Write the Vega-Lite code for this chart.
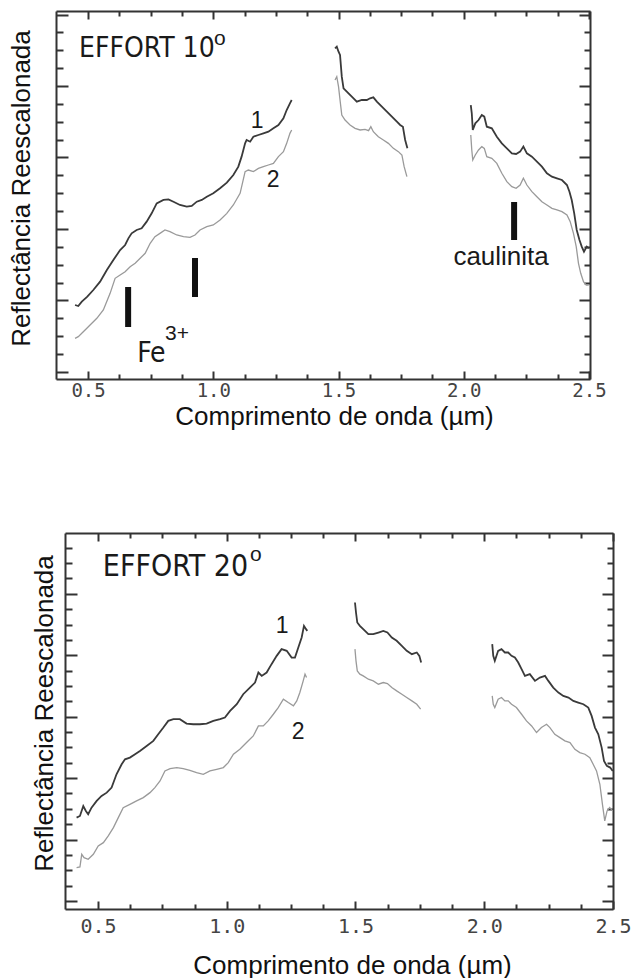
{
  "$schema": "https://vega.github.io/schema/vega-lite/v6.json",
  "padding": {"left": 8, "top": 10, "right": 0, "bottom": 0},
  "background": "white",
  "config": {"view": {"stroke": null}},
  "spacing": 103,
  "datasets": {
    "topSpec": [
      {"s":1,"g":1,"w":0.448,"r":0.937},{"s":1,"g":1,"w":0.461,"r":0.923},{"s":1,"g":1,"w":0.475,"r":0.984},{"s":1,"g":1,"w":0.497,"r":1.054},{"s":1,"g":1,"w":0.521,"r":1.147},{"s":1,"g":1,"w":0.548,"r":1.263},{"s":1,"g":1,"w":0.575,"r":1.427},{"s":1,"g":1,"w":0.601,"r":1.566},{"s":1,"g":1,"w":0.628,"r":1.706},{"s":1,"g":1,"w":0.648,"r":1.776},{"s":1,"g":1,"w":0.661,"r":1.869},{"s":1,"g":1,"w":0.674,"r":1.939},{"s":1,"g":1,"w":0.694,"r":1.986},{"s":1,"g":1,"w":0.714,"r":2.009},{"s":1,"g":1,"w":0.734,"r":2.103},{"s":1,"g":1,"w":0.754,"r":2.219},{"s":1,"g":1,"w":0.774,"r":2.359},{"s":1,"g":1,"w":0.801,"r":2.406},{"s":1,"g":1,"w":0.821,"r":2.415},{"s":1,"g":1,"w":0.841,"r":2.382},{"s":1,"g":1,"w":0.867,"r":2.336},{"s":1,"g":1,"w":0.894,"r":2.312},{"s":1,"g":1,"w":0.914,"r":2.322},{"s":1,"g":1,"w":0.934,"r":2.382},{"s":1,"g":1,"w":0.954,"r":2.406},{"s":1,"g":1,"w":0.974,"r":2.452},{"s":1,"g":1,"w":1.0,"r":2.499},{"s":1,"g":1,"w":1.027,"r":2.569},{"s":1,"g":1,"w":1.054,"r":2.648},{"s":1,"g":1,"w":1.08,"r":2.755},{"s":1,"g":1,"w":1.1,"r":2.872},{"s":1,"g":1,"w":1.113,"r":3.012},{"s":1,"g":1,"w":1.127,"r":3.198},{"s":1,"g":1,"w":1.133,"r":3.245},{"s":1,"g":1,"w":1.147,"r":3.221},{"s":1,"g":1,"w":1.16,"r":3.291},{"s":1,"g":1,"w":1.18,"r":3.315},{"s":1,"g":1,"w":1.2,"r":3.338},{"s":1,"g":1,"w":1.22,"r":3.361},{"s":1,"g":1,"w":1.24,"r":3.408},{"s":1,"g":1,"w":1.26,"r":3.455},{"s":1,"g":1,"w":1.28,"r":3.548},{"s":1,"g":1,"w":1.293,"r":3.664},{"s":1,"g":1,"w":1.306,"r":3.758},{"s":1,"g":1,"w":1.313,"r":3.804},
      {"s":2,"g":1,"w":0.448,"r":0.471},{"s":2,"g":1,"w":0.461,"r":0.494},{"s":2,"g":1,"w":0.481,"r":0.564},{"s":2,"g":1,"w":0.508,"r":0.657},{"s":2,"g":1,"w":0.535,"r":0.751},{"s":2,"g":1,"w":0.561,"r":0.867},{"s":2,"g":1,"w":0.588,"r":1.1},{"s":2,"g":1,"w":0.608,"r":1.31},{"s":2,"g":1,"w":0.628,"r":1.357},{"s":2,"g":1,"w":0.648,"r":1.403},{"s":2,"g":1,"w":0.668,"r":1.473},{"s":2,"g":1,"w":0.688,"r":1.52},{"s":2,"g":1,"w":0.708,"r":1.59},{"s":2,"g":1,"w":0.728,"r":1.66},{"s":2,"g":1,"w":0.748,"r":1.8},{"s":2,"g":1,"w":0.767,"r":1.893},{"s":2,"g":1,"w":0.787,"r":1.939},{"s":2,"g":1,"w":0.807,"r":1.986},{"s":2,"g":1,"w":0.827,"r":1.963},{"s":2,"g":1,"w":0.854,"r":1.916},{"s":2,"g":1,"w":0.881,"r":1.893},{"s":2,"g":1,"w":0.907,"r":1.883},{"s":2,"g":1,"w":0.927,"r":1.916},{"s":2,"g":1,"w":0.947,"r":1.986},{"s":2,"g":1,"w":0.974,"r":2.033},{"s":2,"g":1,"w":1.0,"r":2.056},{"s":2,"g":1,"w":1.027,"r":2.126},{"s":2,"g":1,"w":1.054,"r":2.219},{"s":2,"g":1,"w":1.08,"r":2.336},{"s":2,"g":1,"w":1.107,"r":2.499},{"s":2,"g":1,"w":1.127,"r":2.802},{"s":2,"g":1,"w":1.14,"r":2.825},{"s":2,"g":1,"w":1.16,"r":2.802},{"s":2,"g":1,"w":1.18,"r":2.848},{"s":2,"g":1,"w":1.2,"r":2.872},{"s":2,"g":1,"w":1.22,"r":2.895},{"s":2,"g":1,"w":1.24,"r":2.918},{"s":2,"g":1,"w":1.26,"r":3.012},{"s":2,"g":1,"w":1.28,"r":3.082},{"s":2,"g":1,"w":1.293,"r":3.198},{"s":2,"g":1,"w":1.306,"r":3.338},{"s":2,"g":1,"w":1.313,"r":3.385},
      {"s":1,"g":2,"w":1.486,"r":4.527},{"s":1,"g":2,"w":1.493,"r":4.55},{"s":1,"g":2,"w":1.5,"r":4.48},{"s":1,"g":2,"w":1.506,"r":4.434},{"s":1,"g":2,"w":1.513,"r":4.131},{"s":1,"g":2,"w":1.52,"r":3.967},{"s":1,"g":2,"w":1.533,"r":3.921},{"s":1,"g":2,"w":1.553,"r":3.851},{"s":1,"g":2,"w":1.573,"r":3.781},{"s":1,"g":2,"w":1.593,"r":3.804},{"s":1,"g":2,"w":1.613,"r":3.804},{"s":1,"g":2,"w":1.626,"r":3.828},{"s":1,"g":2,"w":1.639,"r":3.841},{"s":1,"g":2,"w":1.653,"r":3.781},{"s":1,"g":2,"w":1.673,"r":3.711},{"s":1,"g":2,"w":1.693,"r":3.641},{"s":1,"g":2,"w":1.713,"r":3.571},{"s":1,"g":2,"w":1.733,"r":3.501},{"s":1,"g":2,"w":1.746,"r":3.455},{"s":1,"g":2,"w":1.757,"r":3.431},{"s":1,"g":2,"w":1.766,"r":3.245},{"s":1,"g":2,"w":1.775,"r":3.128},
      {"s":2,"g":2,"w":1.486,"r":4.084},{"s":2,"g":2,"w":1.493,"r":4.131},{"s":2,"g":2,"w":1.5,"r":3.991},{"s":2,"g":2,"w":1.506,"r":3.804},{"s":2,"g":2,"w":1.513,"r":3.594},{"s":2,"g":2,"w":1.526,"r":3.524},{"s":2,"g":2,"w":1.546,"r":3.455},{"s":2,"g":2,"w":1.566,"r":3.408},{"s":2,"g":2,"w":1.586,"r":3.385},{"s":2,"g":2,"w":1.606,"r":3.394},{"s":2,"g":2,"w":1.62,"r":3.375},{"s":2,"g":2,"w":1.629,"r":3.431},{"s":2,"g":2,"w":1.639,"r":3.361},{"s":2,"g":2,"w":1.659,"r":3.291},{"s":2,"g":2,"w":1.679,"r":3.245},{"s":2,"g":2,"w":1.699,"r":3.198},{"s":2,"g":2,"w":1.719,"r":3.128},{"s":2,"g":2,"w":1.739,"r":3.082},{"s":2,"g":2,"w":1.753,"r":3.035},{"s":2,"g":2,"w":1.762,"r":2.872},{"s":2,"g":2,"w":1.773,"r":2.732},
      {"s":1,"g":3,"w":2.028,"r":3.734},{"s":1,"g":3,"w":2.032,"r":3.618},{"s":1,"g":3,"w":2.036,"r":3.385},{"s":1,"g":3,"w":2.046,"r":3.478},{"s":1,"g":3,"w":2.059,"r":3.524},{"s":1,"g":3,"w":2.072,"r":3.594},{"s":1,"g":3,"w":2.082,"r":3.571},{"s":1,"g":3,"w":2.092,"r":3.431},{"s":1,"g":3,"w":2.112,"r":3.408},{"s":1,"g":3,"w":2.132,"r":3.291},{"s":1,"g":3,"w":2.152,"r":3.198},{"s":1,"g":3,"w":2.172,"r":3.128},{"s":1,"g":3,"w":2.192,"r":3.058},{"s":1,"g":3,"w":2.209,"r":3.049},{"s":1,"g":3,"w":2.225,"r":3.082},{"s":1,"g":3,"w":2.238,"r":3.152},{"s":1,"g":3,"w":2.252,"r":3.058},{"s":1,"g":3,"w":2.272,"r":3.012},{"s":1,"g":3,"w":2.292,"r":2.942},{"s":1,"g":3,"w":2.312,"r":2.872},{"s":1,"g":3,"w":2.332,"r":2.779},{"s":1,"g":3,"w":2.352,"r":2.732},{"s":1,"g":3,"w":2.372,"r":2.709},{"s":1,"g":3,"w":2.392,"r":2.685},{"s":1,"g":3,"w":2.412,"r":2.615},{"s":1,"g":3,"w":2.422,"r":2.522},{"s":1,"g":3,"w":2.431,"r":2.406},{"s":1,"g":3,"w":2.441,"r":2.219},{"s":1,"g":3,"w":2.451,"r":1.986},{"s":1,"g":3,"w":2.462,"r":1.846},{"s":1,"g":3,"w":2.471,"r":1.753},{"s":1,"g":3,"w":2.48,"r":1.683},{"s":1,"g":3,"w":2.491,"r":1.753},{"s":1,"g":3,"w":2.499,"r":1.73},
      {"s":2,"g":3,"w":2.028,"r":3.315},{"s":2,"g":3,"w":2.032,"r":3.105},{"s":2,"g":3,"w":2.036,"r":2.965},{"s":2,"g":3,"w":2.046,"r":3.035},{"s":2,"g":3,"w":2.059,"r":3.105},{"s":2,"g":3,"w":2.072,"r":3.152},{"s":2,"g":3,"w":2.082,"r":3.128},{"s":2,"g":3,"w":2.092,"r":3.012},{"s":2,"g":3,"w":2.112,"r":2.988},{"s":2,"g":3,"w":2.132,"r":2.918},{"s":2,"g":3,"w":2.152,"r":2.779},{"s":2,"g":3,"w":2.172,"r":2.662},{"s":2,"g":3,"w":2.192,"r":2.592},{"s":2,"g":3,"w":2.209,"r":2.569},{"s":2,"g":3,"w":2.225,"r":2.615},{"s":2,"g":3,"w":2.238,"r":2.709},{"s":2,"g":3,"w":2.252,"r":2.615},{"s":2,"g":3,"w":2.272,"r":2.522},{"s":2,"g":3,"w":2.292,"r":2.452},{"s":2,"g":3,"w":2.312,"r":2.382},{"s":2,"g":3,"w":2.332,"r":2.336},{"s":2,"g":3,"w":2.352,"r":2.289},{"s":2,"g":3,"w":2.372,"r":2.266},{"s":2,"g":3,"w":2.392,"r":2.242},{"s":2,"g":3,"w":2.412,"r":2.196},{"s":2,"g":3,"w":2.425,"r":2.103},{"s":2,"g":3,"w":2.438,"r":1.939},{"s":2,"g":3,"w":2.449,"r":1.753},{"s":2,"g":3,"w":2.458,"r":1.52},{"s":2,"g":3,"w":2.467,"r":1.38},{"s":2,"g":3,"w":2.478,"r":1.263},{"s":2,"g":3,"w":2.489,"r":1.217},{"s":2,"g":3,"w":2.499,"r":1.217}
    ],
    "botSpec": [
      {"s":1,"g":1,"w":0.417,"r":1.357},{"s":1,"g":1,"w":0.43,"r":1.384},{"s":1,"g":1,"w":0.443,"r":1.547},{"s":1,"g":1,"w":0.453,"r":1.466},{"s":1,"g":1,"w":0.462,"r":1.412},{"s":1,"g":1,"w":0.475,"r":1.52},{"s":1,"g":1,"w":0.495,"r":1.629},{"s":1,"g":1,"w":0.514,"r":1.71},{"s":1,"g":1,"w":0.534,"r":1.764},{"s":1,"g":1,"w":0.553,"r":1.846},{"s":1,"g":1,"w":0.572,"r":2.063},{"s":1,"g":1,"w":0.592,"r":2.226},{"s":1,"g":1,"w":0.605,"r":2.307},{"s":1,"g":1,"w":0.624,"r":2.334},{"s":1,"g":1,"w":0.644,"r":2.389},{"s":1,"g":1,"w":0.663,"r":2.443},{"s":1,"g":1,"w":0.689,"r":2.524},{"s":1,"g":1,"w":0.715,"r":2.606},{"s":1,"g":1,"w":0.734,"r":2.714},{"s":1,"g":1,"w":0.754,"r":2.823},{"s":1,"g":1,"w":0.773,"r":2.932},{"s":1,"g":1,"w":0.793,"r":2.959},{"s":1,"g":1,"w":0.818,"r":2.959},{"s":1,"g":1,"w":0.844,"r":2.888},{"s":1,"g":1,"w":0.87,"r":2.877},{"s":1,"g":1,"w":0.896,"r":2.877},{"s":1,"g":1,"w":0.922,"r":2.888},{"s":1,"g":1,"w":0.948,"r":2.932},{"s":1,"g":1,"w":0.974,"r":2.959},{"s":1,"g":1,"w":0.993,"r":2.986},{"s":1,"g":1,"w":1.013,"r":3.094},{"s":1,"g":1,"w":1.039,"r":3.203},{"s":1,"g":1,"w":1.064,"r":3.366},{"s":1,"g":1,"w":1.09,"r":3.474},{"s":1,"g":1,"w":1.11,"r":3.556},{"s":1,"g":1,"w":1.123,"r":3.719},{"s":1,"g":1,"w":1.136,"r":3.664},{"s":1,"g":1,"w":1.155,"r":3.719},{"s":1,"g":1,"w":1.174,"r":3.855},{"s":1,"g":1,"w":1.194,"r":3.99},{"s":1,"g":1,"w":1.213,"r":4.099},{"s":1,"g":1,"w":1.233,"r":4.072},{"s":1,"g":1,"w":1.252,"r":3.963},{"s":1,"g":1,"w":1.265,"r":3.963},{"s":1,"g":1,"w":1.278,"r":4.126},{"s":1,"g":1,"w":1.291,"r":4.289},{"s":1,"g":1,"w":1.3,"r":4.479},{"s":1,"g":1,"w":1.308,"r":4.425},{"s":1,"g":1,"w":1.313,"r":4.397},
      {"s":2,"g":1,"w":0.417,"r":0.543},{"s":2,"g":1,"w":0.43,"r":0.554},{"s":2,"g":1,"w":0.437,"r":0.76},{"s":2,"g":1,"w":0.446,"r":0.706},{"s":2,"g":1,"w":0.462,"r":0.679},{"s":2,"g":1,"w":0.482,"r":0.76},{"s":2,"g":1,"w":0.501,"r":0.896},{"s":2,"g":1,"w":0.521,"r":0.95},{"s":2,"g":1,"w":0.54,"r":1.059},{"s":2,"g":1,"w":0.56,"r":1.194},{"s":2,"g":1,"w":0.579,"r":1.357},{"s":2,"g":1,"w":0.598,"r":1.52},{"s":2,"g":1,"w":0.624,"r":1.574},{"s":2,"g":1,"w":0.65,"r":1.629},{"s":2,"g":1,"w":0.676,"r":1.683},{"s":2,"g":1,"w":0.702,"r":1.764},{"s":2,"g":1,"w":0.721,"r":1.846},{"s":2,"g":1,"w":0.741,"r":1.954},{"s":2,"g":1,"w":0.76,"r":2.117},{"s":2,"g":1,"w":0.78,"r":2.155},{"s":2,"g":1,"w":0.806,"r":2.172},{"s":2,"g":1,"w":0.831,"r":2.155},{"s":2,"g":1,"w":0.857,"r":2.128},{"s":2,"g":1,"w":0.883,"r":2.09},{"s":2,"g":1,"w":0.909,"r":2.063},{"s":2,"g":1,"w":0.935,"r":2.117},{"s":2,"g":1,"w":0.961,"r":2.144},{"s":2,"g":1,"w":0.987,"r":2.172},{"s":2,"g":1,"w":1.006,"r":2.253},{"s":2,"g":1,"w":1.026,"r":2.389},{"s":2,"g":1,"w":1.051,"r":2.47},{"s":2,"g":1,"w":1.077,"r":2.579},{"s":2,"g":1,"w":1.103,"r":2.687},{"s":2,"g":1,"w":1.123,"r":2.85},{"s":2,"g":1,"w":1.142,"r":2.85},{"s":2,"g":1,"w":1.161,"r":2.932},{"s":2,"g":1,"w":1.181,"r":3.04},{"s":2,"g":1,"w":1.2,"r":3.149},{"s":2,"g":1,"w":1.22,"r":3.284},{"s":2,"g":1,"w":1.239,"r":3.23},{"s":2,"g":1,"w":1.259,"r":3.176},{"s":2,"g":1,"w":1.272,"r":3.257},{"s":2,"g":1,"w":1.284,"r":3.393},{"s":2,"g":1,"w":1.297,"r":3.583},{"s":2,"g":1,"w":1.304,"r":3.692},{"s":2,"g":1,"w":1.31,"r":3.637},
      {"s":1,"g":2,"w":1.498,"r":4.859},{"s":1,"g":2,"w":1.502,"r":4.696},{"s":1,"g":2,"w":1.507,"r":4.533},{"s":1,"g":2,"w":1.517,"r":4.479},{"s":1,"g":2,"w":1.53,"r":4.425},{"s":1,"g":2,"w":1.55,"r":4.343},{"s":1,"g":2,"w":1.569,"r":4.343},{"s":1,"g":2,"w":1.589,"r":4.37},{"s":1,"g":2,"w":1.608,"r":4.397},{"s":1,"g":2,"w":1.624,"r":4.37},{"s":1,"g":2,"w":1.641,"r":4.289},{"s":1,"g":2,"w":1.66,"r":4.235},{"s":1,"g":2,"w":1.68,"r":4.153},{"s":1,"g":2,"w":1.699,"r":4.072},{"s":1,"g":2,"w":1.719,"r":4.017},{"s":1,"g":2,"w":1.738,"r":4.045},{"s":1,"g":2,"w":1.748,"r":3.99},{"s":1,"g":2,"w":1.755,"r":3.882},
      {"s":2,"g":2,"w":1.498,"r":4.099},{"s":2,"g":2,"w":1.502,"r":3.909},{"s":2,"g":2,"w":1.507,"r":3.746},{"s":2,"g":2,"w":1.517,"r":3.692},{"s":2,"g":2,"w":1.53,"r":3.664},{"s":2,"g":2,"w":1.55,"r":3.61},{"s":2,"g":2,"w":1.569,"r":3.583},{"s":2,"g":2,"w":1.589,"r":3.529},{"s":2,"g":2,"w":1.608,"r":3.556},{"s":2,"g":2,"w":1.624,"r":3.54},{"s":2,"g":2,"w":1.641,"r":3.474},{"s":2,"g":2,"w":1.66,"r":3.42},{"s":2,"g":2,"w":1.68,"r":3.366},{"s":2,"g":2,"w":1.699,"r":3.312},{"s":2,"g":2,"w":1.719,"r":3.257},{"s":2,"g":2,"w":1.738,"r":3.203},{"s":2,"g":2,"w":1.753,"r":3.122},
      {"s":1,"g":3,"w":2.031,"r":4.18},{"s":1,"g":3,"w":2.035,"r":3.99},{"s":1,"g":3,"w":2.041,"r":3.909},{"s":1,"g":3,"w":2.054,"r":4.072},{"s":1,"g":3,"w":2.067,"r":4.099},{"s":1,"g":3,"w":2.08,"r":4.045},{"s":1,"g":3,"w":2.093,"r":4.045},{"s":1,"g":3,"w":2.106,"r":3.99},{"s":1,"g":3,"w":2.119,"r":3.963},{"s":1,"g":3,"w":2.132,"r":3.882},{"s":1,"g":3,"w":2.145,"r":3.773},{"s":1,"g":3,"w":2.158,"r":3.664},{"s":1,"g":3,"w":2.177,"r":3.692},{"s":1,"g":3,"w":2.197,"r":3.583},{"s":1,"g":3,"w":2.216,"r":3.637},{"s":1,"g":3,"w":2.236,"r":3.664},{"s":1,"g":3,"w":2.249,"r":3.583},{"s":1,"g":3,"w":2.268,"r":3.474},{"s":1,"g":3,"w":2.288,"r":3.393},{"s":1,"g":3,"w":2.307,"r":3.339},{"s":1,"g":3,"w":2.327,"r":3.312},{"s":1,"g":3,"w":2.346,"r":3.257},{"s":1,"g":3,"w":2.365,"r":3.23},{"s":1,"g":3,"w":2.385,"r":3.203},{"s":1,"g":3,"w":2.404,"r":3.149},{"s":1,"g":3,"w":2.417,"r":3.013},{"s":1,"g":3,"w":2.43,"r":2.823},{"s":1,"g":3,"w":2.443,"r":2.714},{"s":1,"g":3,"w":2.456,"r":2.497},{"s":1,"g":3,"w":2.465,"r":2.28},{"s":1,"g":3,"w":2.476,"r":2.199},{"s":1,"g":3,"w":2.489,"r":2.172},{"s":1,"g":3,"w":2.499,"r":2.117},
      {"s":2,"g":3,"w":2.031,"r":3.339},{"s":2,"g":3,"w":2.035,"r":3.203},{"s":2,"g":3,"w":2.041,"r":3.149},{"s":2,"g":3,"w":2.054,"r":3.284},{"s":2,"g":3,"w":2.067,"r":3.312},{"s":2,"g":3,"w":2.08,"r":3.257},{"s":2,"g":3,"w":2.093,"r":3.257},{"s":2,"g":3,"w":2.106,"r":3.203},{"s":2,"g":3,"w":2.125,"r":3.149},{"s":2,"g":3,"w":2.145,"r":3.04},{"s":2,"g":3,"w":2.164,"r":2.932},{"s":2,"g":3,"w":2.184,"r":2.85},{"s":2,"g":3,"w":2.203,"r":2.742},{"s":2,"g":3,"w":2.222,"r":2.823},{"s":2,"g":3,"w":2.242,"r":2.877},{"s":2,"g":3,"w":2.255,"r":2.823},{"s":2,"g":3,"w":2.274,"r":2.714},{"s":2,"g":3,"w":2.294,"r":2.66},{"s":2,"g":3,"w":2.313,"r":2.606},{"s":2,"g":3,"w":2.333,"r":2.579},{"s":2,"g":3,"w":2.352,"r":2.47},{"s":2,"g":3,"w":2.371,"r":2.416},{"s":2,"g":3,"w":2.391,"r":2.389},{"s":2,"g":3,"w":2.41,"r":2.334},{"s":2,"g":3,"w":2.423,"r":2.226},{"s":2,"g":3,"w":2.436,"r":2.117},{"s":2,"g":3,"w":2.449,"r":1.9},{"s":2,"g":3,"w":2.459,"r":1.574},{"s":2,"g":3,"w":2.468,"r":1.303},{"s":2,"g":3,"w":2.477,"r":1.466},{"s":2,"g":3,"w":2.487,"r":1.52},{"s":2,"g":3,"w":2.499,"r":1.466}
    ],
    "topBars": [{"w":0.66,"r1":1.189,"r2":0.629},{"w":0.927,"r1":1.594,"r2":1.049},{"w":2.201,"r1":2.378,"r2":1.846}],
    "topBig": [{"w":0.464,"r":4.406,"t":"EFFORT 10"},{"w":0.696,"r":0.14,"t":"Fe"}],
    "topSup": [{"w":1.003,"r":4.573,"t":"o"},{"w":0.807,"r":0.45,"t":"3+"}],
    "topNum": [{"w":1.175,"r":3.41,"t":"1"},{"w":1.239,"r":2.587,"t":"2"}],
    "topCaul": [{"w":2.149,"r":1.497,"t":"caulinita"}],
    "botBig": [{"w":0.519,"r":5.293,"t":"EFFORT 20"}],
    "botSup": [{"w":1.09,"r":5.537,"t":"o"}],
    "botNum": [{"w":1.215,"r":4.365,"t":"1"},{"w":1.277,"r":2.638,"t":"2"}]
  },
  "vconcat": [
    {
      "width": 534,
      "height": 368,
      "resolve": {"axis": {"x": "independent", "y": "independent"}},
      "layer": [
        {
          "data": {"name": "topSpec"},
          "mark": {"type": "line", "interpolate": "linear"},
          "encoding": {
            "x": {"field": "w", "type": "quantitative", "scale": {"domain": [0.372, 2.504], "nice": false},
              "axis": {"orient": "bottom", "values": [0.5, 1, 1.5, 2, 2.5], "format": ".1f", "tickSize": -8, "tickWidth": 2, "tickColor": "#333", "domainColor": "#333", "domainWidth": 2, "grid": false, "labelFont": "DejaVu Sans Mono", "labelFontSize": 19, "labelColor": "#444", "labelPadding": 10, "labelFlush": false, "title": "Comprimento de onda (µm)", "titleFont": "Liberation Sans", "titleFontSize": 26, "titleFontWeight": "normal", "titleColor": "#111", "titleBaseline": "alphabetic", "titleAlign": "center", "titleX": 278, "titleY": 45}},
            "y": {"field": "r", "type": "quantitative", "scale": {"domain": [-0.098, 5.049], "nice": false},
              "axis": {"orient": "left", "values": [0, 1, 2, 3, 4, 5], "tickSize": -12, "tickWidth": 2, "tickColor": "#333", "domainColor": "#333", "domainWidth": 2, "grid": false, "labels": false, "title": "Reflectância Reescalonada", "titleFont": "Liberation Sans", "titleFontSize": 26, "titleFontWeight": "normal", "titleColor": "#111", "titleAngle": -90, "titleBaseline": "alphabetic", "titleAlign": "center", "titleX": -27, "titleY": 177}},
            "color": {"field": "s", "type": "nominal", "scale": {"domain": [1, 2], "range": ["#3a3a3a", "#9a9a9a"]}, "legend": null},
            "strokeWidth": {"field": "s", "type": "nominal", "scale": {"domain": [1, 2], "range": [1.8, 1.3]}, "legend": null},
            "detail": {"field": "g", "type": "nominal"}
          }
        },
        {
          "data": {"name": "topBars"},
          "mark": {"type": "rule", "strokeWidth": 6, "color": "#111"},
          "encoding": {
            "x": {"field": "w", "type": "quantitative", "scale": {"domain": [0.372, 2.504], "nice": false},
              "axis": {"orient": "top", "values": [0.5, 1, 1.5, 2, 2.5], "tickSize": -8, "tickWidth": 2, "tickColor": "#333", "domainColor": "#333", "domainWidth": 2, "grid": false, "labels": false, "title": null}},
            "y": {"field": "r1", "type": "quantitative", "scale": {"domain": [-0.098, 5.049], "nice": false},
              "axis": {"orient": "right", "values": [0, 1, 2, 3, 4, 5], "tickSize": -11, "tickWidth": 2, "tickColor": "#333", "domainColor": "#333", "domainWidth": 2, "grid": false, "labels": false, "title": null}},
            "y2": {"field": "r2"}
          }
        },
        {
          "data": {"name": "topBig"},
          "mark": {"type": "text", "font": "Liberation Sans Narrow, DejaVu Sans Condensed, sans-serif", "fontSize": 28, "align": "left", "baseline": "alphabetic", "color": "#1a1a1a"},
          "encoding": {
            "x": {"field": "w", "type": "quantitative", "scale": {"domain": [0.372, 2.504], "nice": false},
              "axis": {"orient": "bottom", "values": [0.625, 0.75, 0.875, 1.125, 1.25, 1.375, 1.625, 1.75, 1.875, 2.125, 2.25, 2.375], "tickSize": -5, "tickWidth": 2, "tickColor": "#333", "domain": false, "grid": false, "labels": false, "title": null}},
            "y": {"field": "r", "type": "quantitative", "scale": {"domain": [-0.098, 5.049], "nice": false},
              "axis": {"orient": "left", "values": [0.25, 0.5, 0.75, 1.25, 1.5, 1.75, 2.25, 2.5, 2.75, 3.25, 3.5, 3.75, 4.25, 4.5, 4.75], "tickSize": -7, "tickWidth": 2, "tickColor": "#333", "domain": false, "grid": false, "labels": false, "title": null}},
            "text": {"field": "t"}
          }
        },
        {
          "data": {"name": "topSup"},
          "mark": {"type": "text", "font": "Liberation Sans", "fontSize": 21, "align": "left", "baseline": "alphabetic", "color": "#1a1a1a"},
          "encoding": {
            "x": {"field": "w", "type": "quantitative", "scale": {"domain": [0.372, 2.504], "nice": false},
              "axis": {"orient": "top", "values": [0.625, 0.75, 0.875, 1.125, 1.25, 1.375, 1.625, 1.75, 1.875, 2.125, 2.25, 2.375], "tickSize": -5, "tickWidth": 2, "tickColor": "#333", "domain": false, "grid": false, "labels": false, "title": null}},
            "y": {"field": "r", "type": "quantitative", "scale": {"domain": [-0.098, 5.049], "nice": false},
              "axis": {"orient": "right", "values": [0.25, 0.5, 0.75, 1.25, 1.5, 1.75, 2.25, 2.5, 2.75, 3.25, 3.5, 3.75, 4.25, 4.5, 4.75], "tickSize": -6, "tickWidth": 2, "tickColor": "#333", "domain": false, "grid": false, "labels": false, "title": null}},
            "text": {"field": "t"}
          }
        },
        {
          "data": {"name": "topNum"},
          "mark": {"type": "text", "font": "Liberation Sans", "fontSize": 23, "align": "center", "baseline": "alphabetic", "color": "#1a1a1a"},
          "encoding": {
            "x": {"field": "w", "type": "quantitative", "scale": {"domain": [0.372, 2.504], "nice": false}, "axis": null},
            "y": {"field": "r", "type": "quantitative", "scale": {"domain": [-0.098, 5.049], "nice": false}, "axis": null},
            "text": {"field": "t"}
          }
        },
        {
          "data": {"name": "topCaul"},
          "mark": {"type": "text", "font": "Liberation Sans", "fontSize": 26, "align": "center", "baseline": "alphabetic", "color": "#1a1a1a"},
          "encoding": {
            "x": {"field": "w", "type": "quantitative", "scale": {"domain": [0.372, 2.504], "nice": false}, "axis": null},
            "y": {"field": "r", "type": "quantitative", "scale": {"domain": [-0.098, 5.049], "nice": false}, "axis": null},
            "text": {"field": "t"}
          }
        }
      ]
    },
    {
      "width": 557,
      "height": 376,
      "resolve": {"axis": {"x": "independent", "y": "independent"}},
      "layer": [
        {
          "data": {"name": "botSpec"},
          "mark": {"type": "line", "interpolate": "linear"},
          "encoding": {
            "x": {"field": "w", "type": "quantitative", "scale": {"domain": [0.372, 2.5], "range": [9, 557], "nice": false},
              "axis": {"orient": "bottom", "values": [0.5, 1, 1.5, 2, 2.5], "format": ".1f", "tickSize": -8, "tickWidth": 2, "tickColor": "#333", "domainColor": "#333", "domainWidth": 2, "grid": false, "labelFont": "DejaVu Sans Mono", "labelFontSize": 20, "labelColor": "#444", "labelPadding": 15, "labelFlush": false, "title": "Comprimento de onda (µm)", "titleFont": "Liberation Sans", "titleFontSize": 26, "titleFontWeight": "normal", "titleColor": "#111", "titleBaseline": "alphabetic", "titleAlign": "center", "titleX": 296, "titleY": 64}},
            "y": {"field": "r", "type": "quantitative", "scale": {"domain": [-0.13, 5.99], "nice": false},
              "axis": {"orient": "left", "offset": -9, "values": [0, 1, 2, 3, 4, 5], "tickSize": -12, "tickWidth": 2, "tickColor": "#333", "domainColor": "#333", "domainWidth": 2, "grid": false, "labels": false, "title": "Reflectância Reescalonada", "titleFont": "Liberation Sans", "titleFontSize": 26, "titleFontWeight": "normal", "titleColor": "#111", "titleAngle": -90, "titleBaseline": "alphabetic", "titleAlign": "center", "titleX": -13, "titleY": 180}},
            "color": {"field": "s", "type": "nominal", "scale": {"domain": [1, 2], "range": ["#3a3a3a", "#9a9a9a"]}, "legend": null},
            "strokeWidth": {"field": "s", "type": "nominal", "scale": {"domain": [1, 2], "range": [1.8, 1.3]}, "legend": null},
            "detail": {"field": "g", "type": "nominal"}
          }
        },
        {
          "data": {"name": "botBig"},
          "mark": {"type": "text", "font": "Liberation Sans Narrow, DejaVu Sans Condensed, sans-serif", "fontSize": 30, "align": "left", "baseline": "alphabetic", "color": "#1a1a1a"},
          "encoding": {
            "x": {"field": "w", "type": "quantitative", "scale": {"domain": [0.372, 2.5], "range": [9, 557], "nice": false},
              "axis": {"orient": "top", "values": [0.5, 1, 1.5, 2, 2.5], "tickSize": -8, "tickWidth": 2, "tickColor": "#333", "domainColor": "#333", "domainWidth": 2, "grid": false, "labels": false, "title": null}},
            "y": {"field": "r", "type": "quantitative", "scale": {"domain": [-0.13, 5.99], "nice": false},
              "axis": {"orient": "right", "values": [0, 1, 2, 3, 4, 5], "tickSize": -11, "tickWidth": 2, "tickColor": "#333", "domainColor": "#333", "domainWidth": 2, "grid": false, "labels": false, "title": null}},
            "text": {"field": "t"}
          }
        },
        {
          "data": {"name": "botSup"},
          "mark": {"type": "text", "font": "Liberation Sans", "fontSize": 21, "align": "left", "baseline": "alphabetic", "color": "#1a1a1a"},
          "encoding": {
            "x": {"field": "w", "type": "quantitative", "scale": {"domain": [0.372, 2.5], "range": [9, 557], "nice": false},
              "axis": {"orient": "bottom", "values": [0.625, 0.75, 0.875, 1.125, 1.25, 1.375, 1.625, 1.75, 1.875, 2.125, 2.25, 2.375], "tickSize": -5, "tickWidth": 2, "tickColor": "#333", "domain": false, "grid": false, "labels": false, "title": null}},
            "y": {"field": "r", "type": "quantitative", "scale": {"domain": [-0.13, 5.99], "nice": false},
              "axis": {"orient": "left", "offset": -9, "values": [0.25, 0.5, 0.75, 1.25, 1.5, 1.75, 2.25, 2.5, 2.75, 3.25, 3.5, 3.75, 4.25, 4.5, 4.75, 5.25, 5.5, 5.75], "tickSize": -7, "tickWidth": 2, "tickColor": "#333", "domain": false, "grid": false, "labels": false, "title": null}},
            "text": {"field": "t"}
          }
        },
        {
          "data": {"name": "botNum"},
          "mark": {"type": "text", "font": "Liberation Sans", "fontSize": 23, "align": "center", "baseline": "alphabetic", "color": "#1a1a1a"},
          "encoding": {
            "x": {"field": "w", "type": "quantitative", "scale": {"domain": [0.372, 2.5], "range": [9, 557], "nice": false},
              "axis": {"orient": "top", "values": [0.625, 0.75, 0.875, 1.125, 1.25, 1.375, 1.625, 1.75, 1.875, 2.125, 2.25, 2.375], "tickSize": -5, "tickWidth": 2, "tickColor": "#333", "domain": false, "grid": false, "labels": false, "title": null}},
            "y": {"field": "r", "type": "quantitative", "scale": {"domain": [-0.13, 5.99], "nice": false},
              "axis": {"orient": "right", "values": [0.25, 0.5, 0.75, 1.25, 1.5, 1.75, 2.25, 2.5, 2.75, 3.25, 3.5, 3.75, 4.25, 4.5, 4.75, 5.25, 5.5, 5.75], "tickSize": -6, "tickWidth": 2, "tickColor": "#333", "domain": false, "grid": false, "labels": false, "title": null}},
            "text": {"field": "t"}
          }
        }
      ]
    }
  ]
}
